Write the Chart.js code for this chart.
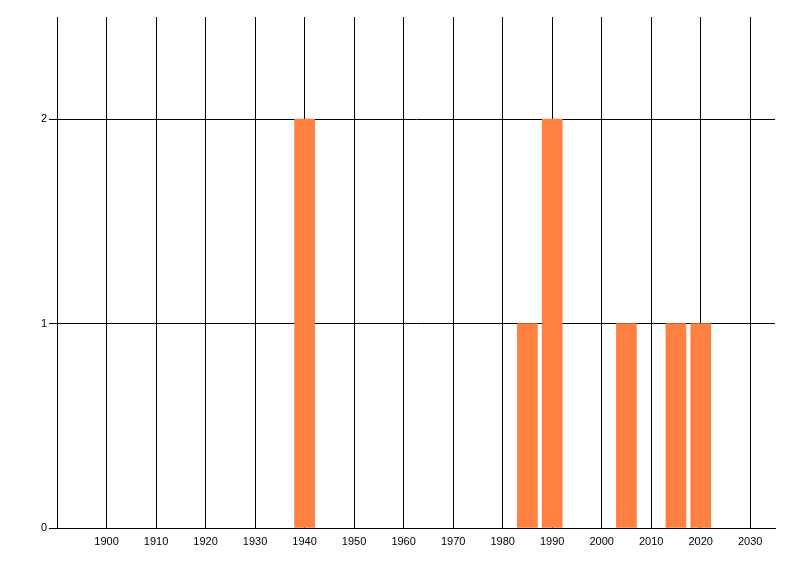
<!DOCTYPE html>
<html>
<head>
<meta charset="utf-8">
<script src="https://cdn.jsdelivr.net/npm/chart.js@4"></script>
<style>
  html, body { margin: 0; padding: 0; background: #fff; }
</style>
</head>
<body>
<canvas id="yearChart" width="800" height="576"></canvas>
<script>
const years = [1940, 1985, 1990, 2005, 2015, 2020];
const counts = [2, 1, 2, 1, 1, 1];
const decadeTicks = [1900, 1910, 1920, 1930, 1940, 1950, 1960, 1970, 1980, 1990, 2000, 2010, 2020, 2030];
const countTicks = [0, 1, 2];

const yearChart = document.getElementById('yearChart');

new Chart(yearChart, {
  type: 'bar',
  data: {
    datasets: [{
      label: '',
      data: years.map((y, i) => ({ x: y, y: counts[i] })),
      backgroundColor: '#FF8040',
      borderWidth: 0,
      barThickness: 20
    }]
  },
  options: {
    responsive: false,
    animation: false,
    layout: {
      padding: { left: 0, top: 17, right: 25, bottom: 0 }
    },
    plugins: {
      legend: { display: false },
      tooltip: { enabled: false }
    },
    scales: {
      x: {
        type: 'linear',
        min: 1890,
        max: 2035,
        offset: false,
        afterBuildTicks: axis => { axis.ticks = decadeTicks.map(v => ({ value: v })); },
        afterFit: scale => { scale.height = 48; },
        grid: { color: '#000', lineWidth: 1, drawTicks: false, offset: false },
        border: { color: '#000', width: 1 },
        ticks: {
          color: '#000',
          padding: 7,
          maxRotation: 0,
          font: { family: 'Liberation Sans', size: 11 },
          callback: v => String(v)
        }
      },
      y: {
        min: 0,
        max: 2.5,
        afterBuildTicks: axis => { axis.ticks = countTicks.map(v => ({ value: v })); },
        afterFit: scale => { scale.width = 57; },
        grid: { color: '#000', lineWidth: 1, drawTicks: true, tickLength: 8 },
        border: { color: '#000', width: 1 },
        ticks: {
          color: '#000',
          padding: 2,
          font: { family: 'Liberation Sans', size: 11 }
        }
      }
    }
  }
});
</script>
</body>
</html>
